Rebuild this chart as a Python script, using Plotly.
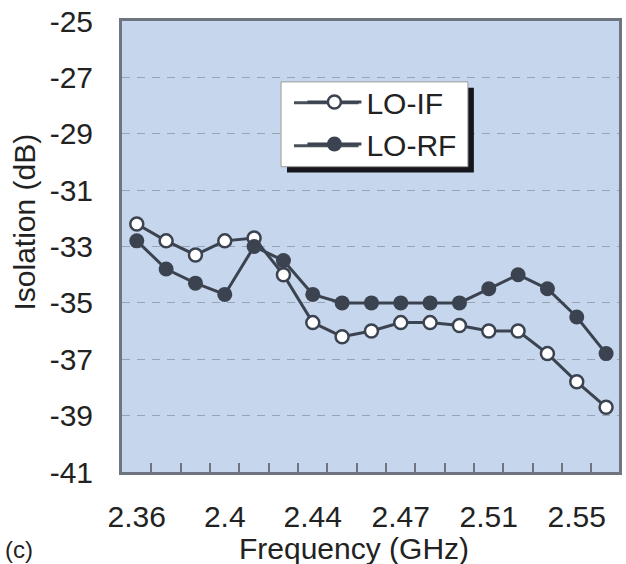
import plotly.graph_objects as go

# ---- data ----
freq_ghz = [2.36, 2.3725, 2.385, 2.3975, 2.41, 2.4225, 2.435, 2.4475, 2.46,
            2.4725, 2.485, 2.4975, 2.51, 2.5225, 2.535, 2.5475, 2.56]
lo_if = [-32.2, -32.8, -33.3, -32.8, -32.7, -34.0, -35.7, -36.2, -36.0,
         -35.7, -35.7, -35.8, -36.0, -36.0, -36.8, -37.8, -38.7]
lo_rf = [-32.8, -33.8, -34.3, -34.7, -33.0, -33.5, -34.7, -35.0, -35.0,
         -35.0, -35.0, -35.0, -34.5, -34.0, -34.5, -35.5, -36.8]
x_tick_vals = freq_ghz[0::3]
x_tick_text = ["2.36", "2.4", "2.44", "2.47", "2.51", "2.55"]
y_tick_vals = [-25, -27, -29, -31, -33, -35, -37, -39, -41]
y_tick_text = ["-25", "-27", "-29", "-31", "-33", "-35", "-37", "-39", "-41"]
x_minor_vals = [(a + b) / 2 for a, b in zip(freq_ghz[:-1], freq_ghz[1:])] + [freq_ghz[-1] + 0.00625]

LINE = "#3c4350"
LEG_LINE = "#4a505a"
FONT = "Liberation Sans, Arial, sans-serif"
TXT = "#222222"

fig = go.Figure()
fig.add_trace(go.Scatter(
    x=freq_ghz, y=lo_if, name="LO-IF", mode="lines+markers",
    line=dict(color=LINE, width=3),
    marker=dict(symbol="circle", size=13, color="white",
                line=dict(color=LINE, width=2.5)),
))
fig.add_trace(go.Scatter(
    x=freq_ghz, y=lo_rf, name="LO-RF", mode="lines+markers",
    line=dict(color=LINE, width=3),
    marker=dict(symbol="circle", size=15, color=LINE,
                line=dict(color=LINE, width=0)),
))

# legend box with drop shadow
fig.add_shape(type="rect", xref="paper", yref="paper",
              x0=0.332, x1=0.708, y0=0.664, y1=0.852,
              fillcolor="#15171c", line=dict(width=0), layer="above")
fig.add_shape(type="rect", xref="paper", yref="paper",
              x0=0.32, x1=0.696, y0=0.677, y1=0.865,
              fillcolor="white", line=dict(color="#9a9a9a", width=1), layer="above")
# longer legend line samples (decoration only)
for yy in [(472 - 102) / 452, (472 - 145) / 452]:
    fig.add_shape(type="line", xref="paper", yref="paper",
                  x0=(295 - 122) / 500, x1=(360 - 122) / 500, y0=yy, y1=yy,
                  line=dict(color=LEG_LINE, width=3), layer="above")

fig.update_layout(
    width=626, height=564,
    margin=dict(l=122, r=4, t=20, b=92),
    paper_bgcolor="white",
    plot_bgcolor="#c6d7ed",
    font=dict(family=FONT, size=30, color=TXT),
    showlegend=True,
    legend=dict(x=0.363, y=0.878, xanchor="left", yanchor="top",
                bgcolor="rgba(0,0,0,0)", borderwidth=0,
                font=dict(family=FONT, size=30, color=TXT),
                itemwidth=54, tracegroupgap=0),
    xaxis=dict(
        range=[2.3537, 2.5655],
        tickmode="array", tickvals=x_tick_vals, ticktext=x_tick_text,
        ticks="", showgrid=False, zeroline=False,
        showline=True, linecolor="#6e7480", linewidth=3, mirror=True,
        ticklabelstandoff=16,
        tickfont=dict(family=FONT, size=30, color=TXT),
        minor=dict(tickmode="array", tickvals=x_minor_vals, ticks="inside",
                   ticklen=9, tickwidth=1.5, tickcolor="#6e7480", showgrid=False),
    ),
    yaxis=dict(
        range=[-41, -25],
        tickmode="array", tickvals=y_tick_vals, ticktext=y_tick_text,
        ticks="", zeroline=False,
        showgrid=True, gridcolor="#98a3b3", gridwidth=1, griddash="8px,7px",
        showline=True, linecolor="#6e7480", linewidth=3, mirror=True,
        ticklabelstandoff=20,
        tickfont=dict(family=FONT, size=30, color=TXT),
    ),
    annotations=[
        dict(text="Frequency (GHz)", xref="paper", yref="paper",
             x=0.466, y=0, yshift=-76, xanchor="center", yanchor="middle",
             showarrow=False, font=dict(family=FONT, size=30, color=TXT)),
        dict(text="Isolation (dB)", xref="paper", yref="paper",
             x=0, xshift=-97, y=(472 - 222) / 452, xanchor="center", yanchor="middle",
             textangle=-90, showarrow=False,
             font=dict(family=FONT, size=30, color=TXT)),
        dict(text="(c)", xref="paper", yref="paper",
             x=0, xshift=-103, y=0, yshift=-77, xanchor="center", yanchor="middle",
             showarrow=False, font=dict(family=FONT, size=24, color=TXT)),
    ],
)

fig.write_html("out.html")
